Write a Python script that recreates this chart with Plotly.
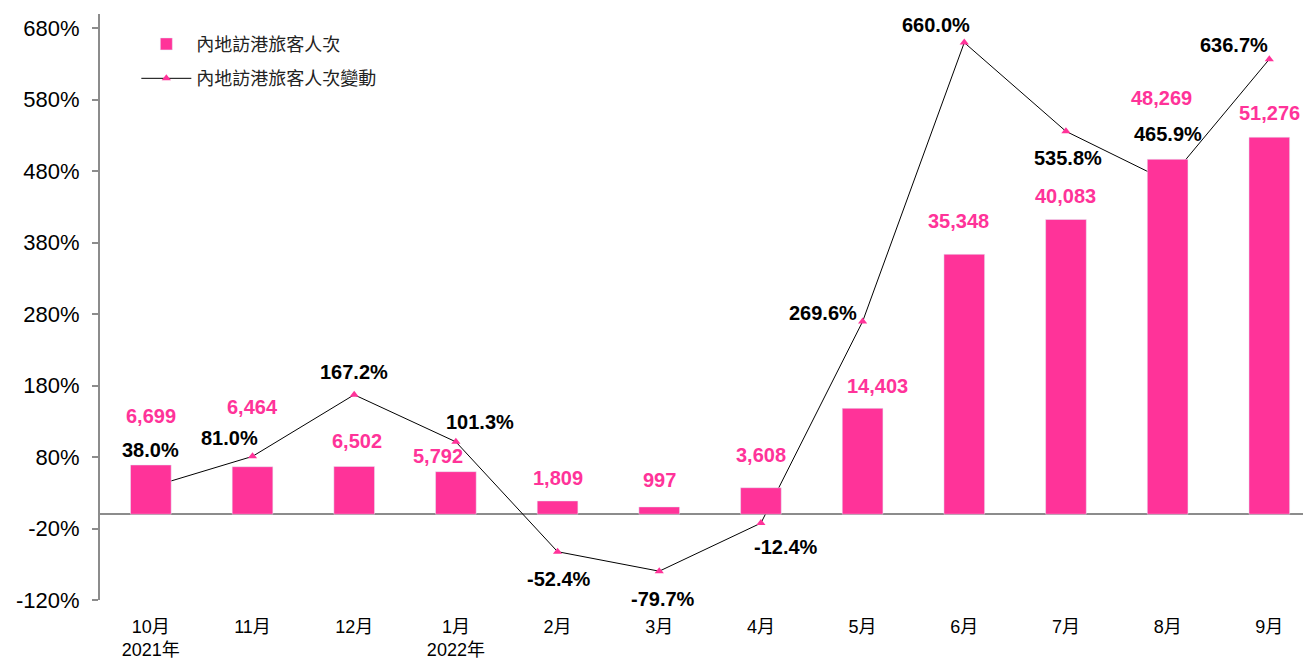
import plotly.graph_objects as go

categories = ["10月<br>2021年", "11月", "12月", "1月<br>2022年", "2月", "3月", "4月",
              "5月", "6月", "7月", "8月", "9月"]
visitors = [6699, 6464, 6502, 5792, 1809, 997, 3608, 14403, 35348, 40083, 48269, 51276]
change_pct = [38.0, 81.0, 167.2, 101.3, -52.4, -79.7, -12.4, 269.6, 660.0, 535.8, 465.9, 636.7]
y_ticks = [-120, -20, 80, 180, 280, 380, 480, 580, 680]

PINK = "#FF3399"
GRAY = "#8c8c8c"
FONT = "Liberation Sans, Arial, Noto Sans CJK TC, sans-serif"

# label offsets (pixels) for annotations
bar_label_shift = [(0, 49), (0, 60), (3, 25), (-18, 16), (0, 23), (0, 27), (0, 33),
                   (15, 22), (-6, 33), (0, 23), (-6, 61), (0, 24)]
line_label_shift = [(0, 37), (-23, 18), (0, 23), (24, 20), (1, -27), (4, -28), (25, -24),
                    (-40, 9), (-28, 18), (2, -27), (0, 47), (-35, 14)]

x_idx = list(range(len(categories)))
scale = 0.01029
y1_range = [-120, 700]
y2_range = [y1_range[0] / scale, y1_range[1] / scale]

fig = go.Figure()
fig.add_trace(go.Bar(
    x=x_idx, y=visitors, name="內地訪港旅客人次", marker_color=PINK, width=0.4,
    yaxis="y2", legendgroup="a",
))
fig.add_trace(go.Scatter(
    x=x_idx, y=change_pct, name="內地訪港旅客人次變動", mode="lines+markers",
    line=dict(color="black", width=1), legendgroup="b",
    marker=dict(symbol="triangle-up", size=8, color=PINK),
))

annotations = []
for i, v in enumerate(visitors):
    dx, dy = bar_label_shift[i]
    annotations.append(dict(
        x=i, y=v, xref="x", yref="y2", text=f"{v:,}", showarrow=False,
        xshift=dx, yshift=dy, font=dict(color=PINK, size=20, family=FONT, weight="bold"),
    ))
for i, v in enumerate(change_pct):
    dx, dy = line_label_shift[i]
    annotations.append(dict(
        x=i, y=v, xref="x", yref="y", text=f"{v:.1f}%", showarrow=False,
        xshift=dx, yshift=dy, font=dict(color="black", size=20, family=FONT, weight="bold"),
    ))

fig.update_layout(
    width=1303, height=654,
    margin=dict(l=92, r=0, t=6, b=62),
    paper_bgcolor="white", plot_bgcolor="white",
    font=dict(family=FONT, color="black"),
    showlegend=True,
    legend=dict(x=0.03, y=0.98, xanchor="left", yanchor="top",
                font=dict(size=18, color="#222"), bgcolor="rgba(0,0,0,0)",
                tracegroupgap=8, itemwidth=50),
    xaxis=dict(
        tickmode="array", tickvals=x_idx, ticktext=categories,
        range=[-0.5, 11.41], showgrid=False, showline=False, zeroline=False,
        ticks="", ticklabelstandoff=14, tickfont=dict(size=18),
    ),
    yaxis=dict(
        range=y1_range, tickmode="array", tickvals=y_ticks,
        ticktext=[f"{t}%" for t in y_ticks],
        showgrid=False, showline=True, linecolor=GRAY, linewidth=2,
        ticks="outside", ticklen=6, tickcolor=GRAY, tickwidth=2,
        zeroline=True, zerolinecolor=GRAY, zerolinewidth=2,
        tickfont=dict(size=22), ticklabelstandoff=8,
    ),
    yaxis2=dict(
        range=y2_range, overlaying="y", side="right", visible=False,
        showgrid=False, zeroline=False,
    ),
    annotations=annotations,
    barmode="overlay",
)

fig.write_html("out.html")
